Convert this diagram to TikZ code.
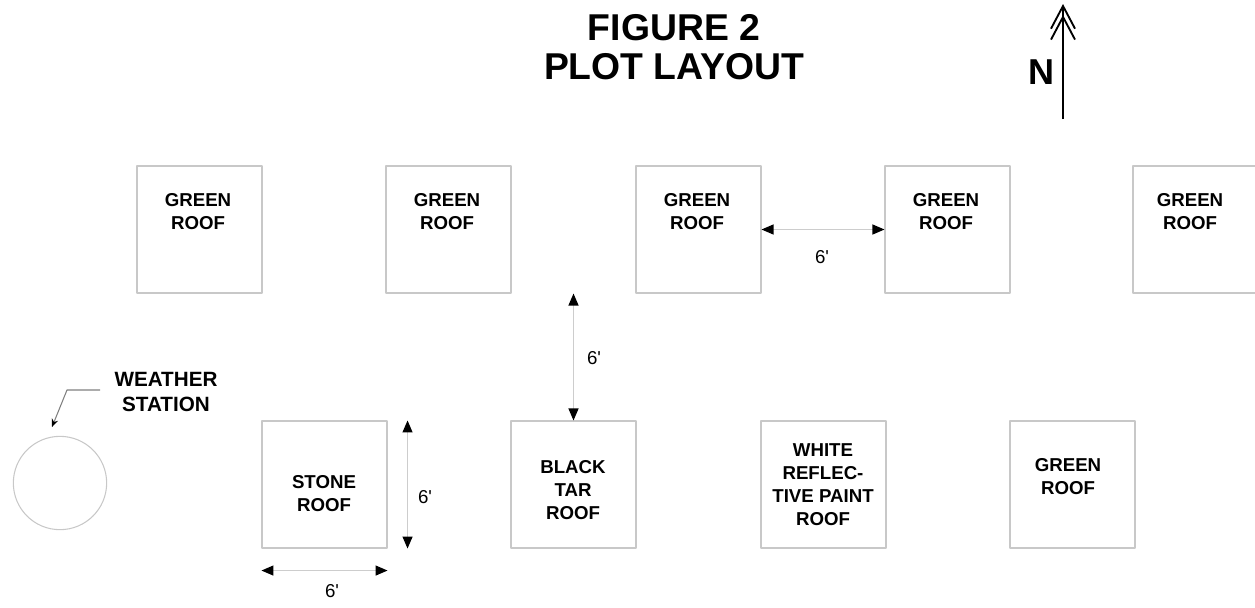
\documentclass[tikz,border=0pt]{standalone}
\usepackage{fontspec}
\setmainfont{Liberation Sans}
\usetikzlibrary{arrows.meta,positioning,calc}
\definecolor{plotedge}{RGB}{200,200,200}
\definecolor{dimline}{RGB}{205,205,205}
\tikzset{
  plot/.style={
    draw=plotedge, line width=0.8pt, minimum width=93.75pt,
    minimum height=95.25pt, inner sep=0pt
  },
  lbl/.style={
    font=\fontsize{14}{17.3}\selectfont\bfseries, align=center, inner sep=0pt
  },
  dim/.style={
    {Triangle[length=9pt,width=7.5pt,color=black]}-{Triangle[length=9pt,width=7.5pt,color=black]},
    draw=dimline, line width=0.9pt
  },
  dimtxt/.style={font=\fontsize{14}{16}\selectfont, inner sep=0pt},
  every picture/.append style={line join=round}
}
\newcommand{\ft}{6\textquotesingle}
\begin{document}
\begin{tikzpicture}[x=0.75pt,y=-0.75pt]
  \useasboundingbox (0,0) rectangle (1255,607);
  % title and north arrow
  \node[font=\fontsize{28}{29.3}\selectfont\bfseries, align=center, inner sep=0pt]
    (title) at (674,47) {FIGURE 2\\PLOT LAYOUT};
  \node[font=\fontsize{27}{30}\selectfont\bfseries, inner sep=0pt] (north) at (1041,72) {N};
  \coordinate (ntail) at (1063,119);
  \coordinate (nhead) at (1063,4);
  \draw[line width=1.4pt, -{Straight Barb[length=17pt,width=18pt,line width=1.4pt,sep=-11pt] Straight Barb[length=17pt,width=18pt,line width=1.4pt]}]
    (ntail) -- (nhead);
  % top row
  \node[plot] (g1) at (199.5,229.5) {};
  \node[plot] (g2) at (448.5,229.5) {};
  \node[plot] (g3) at (698.5,229.5) {};
  \node[plot] (g4) at (947.5,229.5) {};
  \node[plot] (g5) at (1195.5,229.5) {};
  \node[lbl] at (198,212) {GREEN\\ROOF};
  \node[lbl] at (447,212) {GREEN\\ROOF};
  \node[lbl] at (697,212) {GREEN\\ROOF};
  \node[lbl] at (946,212) {GREEN\\ROOF};
  \node[lbl] at (1190,212) {GREEN\\ROOF};
  % bottom row
  \node[plot] (st) at (324.5,484.5) {};
  \node[plot] (bt) at (573.5,484.5) {};
  \node[plot] (wr) at (823.5,484.5) {};
  \node[plot] (gb) at (1072.5,484.5) {};
  \node[lbl] at (324,494) {STONE\\ROOF};
  \node[lbl] at (573,490) {BLACK\\TAR\\ROOF};
  \node[lbl] at (823,485) {WHITE\\REFLEC-\\TIVE PAINT\\ROOF};
  \node[lbl] at (1068,477) {GREEN\\ROOF};
  % weather station
  \node[draw=plotedge, line width=0.8pt, circle, minimum size=70pt, inner sep=0pt] (ws) at (60,483) {};
  \node[lbl, font=\fontsize{15.5}{18.5}\selectfont\bfseries] (wstxt) at (166,392) {WEATHER\\STATION};
  \coordinate (wslead) at (100,390);
  \draw[draw=black!50, line width=0.8pt, -{Stealth[length=6pt,width=5pt,color=black]}]
    (wslead) -- (67,390) -- (52,427);
  % dimensions
  \draw[dim] (g3.east) -- (g4.west);
  \node[dimtxt] at (822,257) {\ft};
  \draw[dim] (g3.south -| bt.north) -- (bt.north);
  \node[dimtxt] at (594,358) {\ft};
  \draw[dim] ([xshift=15pt]st.north east) -- ([xshift=15pt]st.south east);
  \node[dimtxt] at (425,497) {\ft};
  \draw[dim] ([yshift=-16.5pt]st.south west) -- ([yshift=-16.5pt]st.south east);
  \node[dimtxt] at (332,591) {\ft};
\end{tikzpicture}
\end{document}
